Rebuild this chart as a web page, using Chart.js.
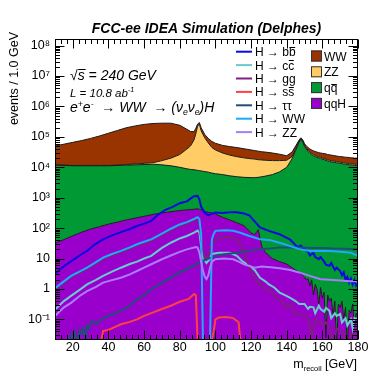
<!DOCTYPE html>
<html><head><meta charset="utf-8">
<script src="https://cdn.jsdelivr.net/npm/chart.js@4/dist/chart.umd.min.js"></script>
<style>html,body{margin:0;padding:0;background:#fff;}</style>
</head><body>
<canvas id="c" width="389" height="378"></canvas>
<script>
// ---------------- DATA ----------------
const xTickValues = [20, 40, 60, 80, 100, 120, 140, 160, 180];
const yTickValues = [0.1, 1, 10, 100, 1e3, 1e4, 1e5, 1e6, 1e7, 1e8];
const yTickLabels = ['10\u207B\u00B9', '1', '10', '10\u00B2', '10\u00B3', '10\u2074', '10\u2075', '10\u2076', '10\u2077', '10\u2078'];

// stacked backgrounds (events / 1 GeV), shared mass grid
const bkgMass = [10,15,20,25,30,35,40,45,50,55,60,65,70,75,80,84,86,88,89,90,91,92,94,96,98,100,104,108,112,116,120,122,124,126,128,132,136,140,143,145,147,148,149,150,151,152,153,154,155,156,157,158,159,160,161,162,163,164,165,166,167,168,169,170,171,172,173,174,175,176,177,178,179,180];
const qqH = [32,42,56,74,93,112,135,158,186,214,245,282,316,347,380,398,407,417,427,427,417,398,355,331,316,288,229,186,151,120,71,60,89,25,16,10,7.9,6.6,5.0,4.2,3.5,3.2,2.8,2.5,2.0,2.2,1.26,2.0,0.63,1.41,1.0,0.32,1.12,0.5,0.79,0.025,0.63,0.4,0.5,0.13,0.4,0.013,0.32,0.25,0.4,0.1,0.25,0.013,0.2,0.16,0.32,0.063,0.16,0.13];
const qqbar = [11700,11440,11160,11150,11130,11110,11090,11320,11560,11800,12060,12310,11700,10870,9620,8515,8104,7900,7700,7516,7345,7188,6889,6587,6141,5878,5525,5062,4747,4557,4500,4511,4588,4873,5113,5744,7071,9993,19045,35476,67600,83180,67600,47860,39800,33110,28840,25700,23990,22390,21380,20420,19500,18620,17780,16980,16220,15490,15140,14790,14450,14130,13800,13490,13180,12880,12590,12300,12020,12020,11750,11480,11480,11220];
const zzBkg = [270,270,260,260,260,260,260,270,550,860,1190,1540,4580,8730,16300,30900,41600,71100,117800,216000,255200,150900,86100,56200,38200,31000,23760,19870,17490,15740,14480,14050,13100,12480,11850,10850,9520,6980,3340,4330,4830,3920,4830,4620,3840,3200,2780,2480,2310,2160,1920,1840,1760,1680,1600,1530,1460,1390,1360,1330,1300,1270,1240,1210,1190,1160,1130,1110,1080,1080,1060,1030,1030,1010];
const wwBkg = [38100,45750,54600,64400,77650,95670,120300,150450,187200,216200,243500,261300,265200,261900,213600,138000,101300,68500,64600,39100,32100,41000,26900,26000,26100,24500,22970,22740,22280,20320,18100,16860,16100,14980,14640,12910,10320,7010,9230,10310,6990,6230,6990,7780,6470,8360,8190,8970,8370,8560,8320,7940,8250,8540,8800,9030,8620,8820,8620,8430,8240,8040,7870,7690,8020,7840,7660,7970,7790,7320,7610,7440,7440,7270];

// Higgs decay channels (not stacked)
const hbbMass = [10,15,20,25,28,32,37,42,47,52,56,60,64,68,72,76,80,84,86,88,90,91,92,94,96,98,100,104,108,112,116,119,122,125,130,136,140,142,144,146,148,150,152,153,155,156,158,159,161,162,164,165,167,168,170,171,172,173,174,175,176,177,178,179,180];
const hbb = [3.16,5.6,8.9,14.1,17.8,28.2,42.7,57.5,74.1,93.3,117,141,174,282,398,501,661,759,933,1122,1148,891,501,316,263,295,324,316,331,331,302,263,166,105,81.3,63.1,47.9,41.7,31.6,24.0,26.3,20.0,16.6,12.6,15.5,11.2,9.5,11.2,7.9,6.3,5.8,7.1,4.2,5.0,3.9,2.8,3.5,2.0,2.5,1.6,2.2,1.4,2.0,1.26,1.4];

const hccMass = [10,15,19,24,28,33,37,42,47,52,56,60,64,70,75,80,84,88,90,91,92,93,95,97,98,102,108,112,115,119,122,125,128,130,133,136,139,142,145,147,150,152,153,155,156,158,159,161,162,164,165,167,168,170,171,173,174,176,177,178,180];
const hcc = [0.21,0.40,0.59,0.95,1.41,2.0,2.69,3.7,5.0,6.6,7.9,10,12.3,22.4,33.1,45.7,55.0,70.8,83.2,70.8,25.1,10.7,7.1,10,14.1,15.5,15.5,12.3,8.3,5.8,4.2,2.34,1.78,1.41,1.12,0.76,0.63,0.51,0.40,0.32,0.32,0.22,0.26,0.25,0.16,0.28,0.22,0.18,0.24,0.19,0.11,0.16,0.13,0.15,0.079,0.11,0.063,0.10,0.05,0.11,0.10];

const hggMass = [10,15,19,24,28,33,37,42,47,52,56,60,64,70,75,80,84,88,90,91,92,94,96,98,100,102,106,110,112,114,117,120,122,125,128,131,134,136,138,140,142,144,147,150,152,154,156,158,160,162,164,166,168,170,172,174,176,178,180];
const hgg = [0.89,1.58,2.4,3.3,4.5,6.8,9.5,12.6,15.8,20.9,26.3,31.6,38.0,58.9,85.1,117,141,178,200,166,39.8,10,12.6,28.2,39.8,49.0,51.3,47.9,42.7,28.2,10.7,3.98,2.34,1.41,1.0,0.85,0.50,0.41,0.35,0.25,0.32,0.16,0.15,0.13,0.11,0.025,0.10,0.089,0.063,0.079,0.054,0.016,0.050,0.045,0.035,0.01,0.032,0.032,0.025];

const hssMass = [10,36,37,40,44,47,52,56,60,64,70,75,80,85,88,89,90,98,99,100,102,106,110,113,114,180];
const hss = [0,0,0.042,0.045,0.058,0.069,0.083,0.10,0.13,0.16,0.22,0.28,0.38,0.47,0.68,0.63,0,0,0.04,0.10,0.115,0.12,0.11,0.08,0,0];

const htautauMass = [10,18,19,20,21,22,23,24,25,26,27,28,29,30,31,33,35,37,40,43,47,52,56,60,64,70,75,80,84,88,91,95,100,105,112,119,125,131,136,142,148,155,160,166,172,180];
const htautau = [0,0,0.032,0,0.04,0.025,0,0.045,0.035,0.05,0.02,0.06,0.05,0.08,0.09,0.07,0.09,0.11,0.13,0.15,0.19,0.28,0.46,0.63,0.98,1.58,2.34,3.55,4.47,6.0,7.4,9.5,12.0,13.8,15.5,17.8,20.4,21.4,22.9,22.9,22.9,22.4,22.4,21.4,20.9,20.4];

const hwwMass = [10,15,19,24,28,33,37,42,47,52,56,60,64,70,75,80,84,88,90,91,92,93,94,95,96,97,98,99,100,103,106,110,114,119,122,125,131,136,142,147,153,159,164,170,176,180];
const hww = [1.05,1.78,2.69,3.8,5.0,7.6,10.7,14.1,17.8,23.4,29.5,35.5,42.7,66.1,95.5,132,158,200,229,200,63.1,0,0,0,0,0,42.7,63.1,81.3,83.2,85.1,81.3,70.8,55.0,49.0,42.7,39.8,33.1,25.7,20.4,17.8,17.8,17.8,16.6,15.5,12.3];

const hzzMass = [10,15,19,24,28,33,37,42,47,52,56,60,64,70,75,80,84,89,90,91,92,93,94,95,96,97,98,100,105,110,113,116,122,126,131,136,142,147,153,159,164,170,175,180];
const hzz = [0.13,0.25,0.35,0.60,0.85,1.17,1.62,1.95,2.34,3.0,3.9,5.0,6.5,9.5,12.6,16.6,20.0,24.0,22.9,15.8,7.9,4.0,2.5,2.1,2.8,5.0,7.9,9.5,10.0,9.5,7.9,6.5,5.0,5.5,5.2,4.8,4.2,3.5,2.7,2.1,2.0,1.9,1.8,1.8];

// ---------------- CHART ----------------
const Y_MIN = 0.021, Y_MAX = 1.65e8;
const FONT = '"Liberation Sans", Arial, sans-serif';
function pts(xs, ys) { return xs.map((x, i) => ({ x: x, y: ys[i] > 0 ? ys[i] : Y_MIN })); }

function bkgSet(label, vals, color, fill, order) {
  return { label, data: pts(bkgMass, vals), stack: 'bkg', fill, backgroundColor: color,
    borderColor: '#1a1a1a', borderWidth: 1, pointRadius: 0, tension: 0, order };
}
function sigSet(label, xs, vals, color, order) {
  return { label, data: pts(xs, vals), stack: 'sig_' + label, fill: false, borderColor: color,
    backgroundColor: color, borderWidth: 2, pointRadius: 0, tension: 0, order };
}

const lineEntries = [
  ['H \u2192 b', 'b', '#0a0ae0'],
  ['H \u2192 c', 'c', '#66cccc'],
  ['H \u2192 gg', '', '#7f1f7f'],
  ['H \u2192 s', 's', '#ff4040'],
  ['H \u2192 \u03C4\u03C4', '', '#1f4e7a'],
  ['H \u2192 WW', '', '#1fa8ff'],
  ['H \u2192 ZZ', '', '#a97cff']
];
const boxEntries = [['WW', '', '#993300'], ['ZZ', '', '#ffcc66'], ['q', 'q', '#009933'], ['qqH', '', '#9900cc']];

function drawRich(ctx, x, y, parts, size, style, align) {
  let total = 0;
  for (const p of parts) { ctx.font = `${style} ${size * (p[1] || 1)}px ${FONT}`; total += ctx.measureText(p[0]).width; }
  let cx = align === 'right' ? x - total : x;
  ctx.textAlign = 'left';
  for (const p of parts) {
    const s = size * (p[1] || 1);
    ctx.font = `${style} ${s}px ${FONT}`;
    const w = ctx.measureText(p[0]).width;
    ctx.fillText(p[0], cx, y + (p[2] || 0));
    if (p[3]) {
      ctx.save(); ctx.lineWidth = 1; ctx.strokeStyle = ctx.fillStyle;
      const oy = Math.round(y + (p[2] || 0) - s * p[3]) + 0.5;
      ctx.beginPath(); ctx.moveTo(cx + 0.5, oy); ctx.lineTo(cx + w + (p[4] || 0), oy); ctx.stroke();
      ctx.restore();
    }
    cx += w;
  }
  return total;
}

const decor = {
  id: 'decor',
  afterDraw(chart) {
    const ctx = chart.ctx, a = chart.chartArea, xs = chart.scales.x, ys = chart.scales.y;
    ctx.save();
    ctx.fillStyle = '#000'; ctx.strokeStyle = '#000'; ctx.lineWidth = 1;
    // frame
    const L = Math.round(a.left) + 0.5, R = Math.round(a.right) - 0.5, T = Math.round(a.top) + 0.5, B = Math.round(a.bottom) - 0.5;
    ctx.strokeRect(L, T, R - L, B - T);
    // ticks (inside, ROOT style)
    ctx.beginPath();
    for (let k = 0; k <= 51; k++) {
      const v = 10 + k * 10 / 3;
      if (v > 180.01) break;
      const px = Math.round(xs.getPixelForValue(v)) + 0.5;
      const major = Math.abs(v / 20 - Math.round(v / 20)) < 1e-6;
      const len = major ? 9 : 4.5;
      ctx.moveTo(px, B); ctx.lineTo(px, B - len);
      ctx.moveTo(px, T); ctx.lineTo(px, T + len);
    }
    for (let e = -2; e <= 8; e++) for (let m = 1; m <= 9; m++) {
      const v = m * Math.pow(10, e);
      if (v < Y_MIN || v > Y_MAX) continue;
      const py = Math.round(ys.getPixelForValue(v)) + 0.5;
      const len = m === 1 ? 9 : 4.5;
      ctx.moveTo(L, py); ctx.lineTo(L + len, py);
      ctx.moveTo(R, py); ctx.lineTo(R - len, py);
    }
    ctx.stroke();

    // title
    ctx.font = `italic bold 14px ${FONT}`; ctx.textAlign = 'center'; ctx.textBaseline = 'alphabetic';
    ctx.fillText('FCC-ee IDEA Simulation (Delphes)', (a.left + a.right) / 2, 33);

    // annotations
    drawRich(ctx, 70, 80, [['\u221A'], ['s', 1, 0, 0.78, 1], [' = 240 GeV']], 14, 'italic');
    drawRich(ctx, 70, 97, [['L = 10.8 ab'], ['-1', 0.62, -5]], 11.5, 'italic');
    drawRich(ctx, 70, 112, [['e'], ['+', 0.62, -5.5], ['e'], ['-', 0.62, -5.5], ['  \u2192 WW  \u2192 ('], ['\u03BD'], ['e', 0.62, 3], ['\u03BD'], ['e', 0.62, 3], [')H']], 14, 'italic');

    // legend: lines
    lineEntries.forEach((en, i) => {
      const y = 51.7 + i * 13.4;
      ctx.strokeStyle = en[2]; ctx.lineWidth = 2;
      ctx.beginPath(); ctx.moveTo(236, y); ctx.lineTo(252, y); ctx.stroke();
      ctx.fillStyle = '#000';
      const parts = [[en[0]]];
      if (en[1]) parts.push([en[1], 1, 0, 0.8, -0.5]);
      drawRich(ctx, 255, y + 4.5, parts, 12, '');
    });
    // legend: boxes
    boxEntries.forEach((en, i) => {
      const y = 56 + i * 15.8;
      ctx.fillStyle = en[2]; ctx.fillRect(311, y - 5.5, 11, 11);
      ctx.strokeStyle = '#333'; ctx.lineWidth = 1; ctx.strokeRect(311.5, y - 5, 10, 10);
      ctx.fillStyle = '#000';
      const parts = [[en[0]]];
      if (en[1]) parts.push([en[1], 1, 0, 0.7, -0.5]);
      drawRich(ctx, 324, y + 4.5, parts, 12, '');
    });

    // axis titles
    ctx.fillStyle = '#000';
    drawRich(ctx, 357, 368, [['m'], ['recoil', 0.6, 3], [' [GeV]']], 12.5, '', 'right');
    ctx.save();
    ctx.translate(18, 32); ctx.rotate(-Math.PI / 2);
    ctx.font = `12.5px ${FONT}`; ctx.textAlign = 'right'; ctx.textBaseline = 'alphabetic';
    ctx.fillText('events / 1.0 GeV', 0, 0);
    ctx.restore();
    ctx.restore();
  }
};

new Chart(document.getElementById('c'), {
  type: 'line',
  data: {
    datasets: [
      bkgSet('qqH', qqH, '#9900cc', 'start', 10),
      bkgSet('qqbar', qqbar, '#009933', '-1', 11),
      bkgSet('ZZ', zzBkg, '#ffcc66', '-1', 12),
      bkgSet('WW', wwBkg, '#993300', '-1', 13),
      sigSet('Hbb', hbbMass, hbb, '#0a0ae0', 6),
      sigSet('Hcc', hccMass, hcc, '#66cccc', 5),
      sigSet('Hgg', hggMass, hgg, '#7f1f7f', 4),
      sigSet('Hss', hssMass, hss, '#ff4040', 3),
      sigSet('Htautau', htautauMass, htautau, '#1f4e7a', 2),
      sigSet('HWW', hwwMass, hww, '#1fa8ff', 1),
      sigSet('HZZ', hzzMass, hzz, '#a97cff', 0)
    ]
  },
  options: {
    responsive: false, animation: false, devicePixelRatio: 1,
    layout: { padding: { top: 39, right: 31, left: 0, bottom: 0 } },
    plugins: { legend: { display: false }, tooltip: { enabled: false }, title: { display: false } },
    events: [],
    scales: {
      x: {
        type: 'linear', min: 10, max: 180,
        afterBuildTicks: s => { s.ticks = xTickValues.map(v => ({ value: v })); },
        afterFit: s => { s.height = 38; },
        ticks: { color: '#000', font: { family: FONT, size: 12.5 }, maxRotation: 0, autoSkip: false, padding: 0 },
        grid: { display: false, drawTicks: false }, border: { display: false }
      },
      y: {
        type: 'logarithmic', min: Y_MIN, max: Y_MAX, stacked: true,
        afterBuildTicks: s => { s.ticks = yTickValues.map(v => ({ value: v })); },
        afterFit: s => { s.width = 55; },
        ticks: {
          color: '#000', font: { family: FONT, size: 12.5 }, padding: 5, autoSkip: false,
          callback: v => yTickLabels[Math.round(Math.log10(v)) + 1]
        },
        grid: { display: false, drawTicks: false }, border: { display: false }
      }
    }
  },
  plugins: [decor]
});
</script>
</body></html>
